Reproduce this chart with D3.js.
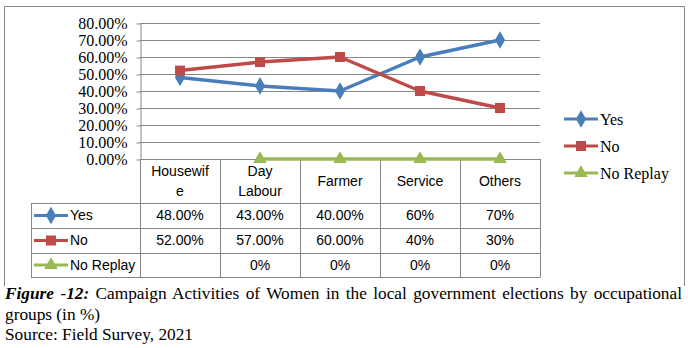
<!DOCTYPE html>
<html>
<head>
<meta charset="utf-8">
<script src="https://cdn.jsdelivr.net/npm/d3@7"></script>
<style>
  html, body { margin: 0; padding: 0; background: #fff; }
  svg { display: block; }
</style>
</head>
<body>
<div id="chart"></div>
<script>
// ── data ───────────────────────────────────────────────
var categories   = ["Housewife", "Day Labour", "Farmer", "Service", "Others"];
var headerLines  = [["Housewif", "e"], ["Day", "Labour"], ["Farmer"], ["Service"], ["Others"]];
var yesValues    = [48, 43, 40, 60, 70];
var noValues     = [52, 57, 60, 40, 30];
var replyValues  = [null, 0, 0, 0, 0];
var yesLabels    = ["48.00%", "43.00%", "40.00%", "60%", "70%"];
var noLabels     = ["52.00%", "57.00%", "60.00%", "40%", "30%"];
var replyLabels  = ["", "0%", "0%", "0%", "0%"];
var yTicks       = [0, 10, 20, 30, 40, 50, 60, 70, 80];

var SERIES = [
  { name: "Yes",      values: yesValues,   labels: yesLabels,   color: "#4a7ebb", marker: "diamond"  },
  { name: "No",       values: noValues,    labels: noLabels,    color: "#be4b48", marker: "square"   },
  { name: "No Replay",values: replyValues, labels: replyLabels, color: "#98b954", marker: "triangle" }
];

var W = 688, H = 348;
var GRID = "#868686";
var SERIF = "'Liberation Serif', 'Times New Roman', serif";
var SANS  = "'Liberation Sans', Arial, sans-serif";

var svg = d3.select("#chart").append("svg")
  .attr("width", W).attr("height", H);

// outer frame (bottom hidden by caption)
svg.append("path")
  .attr("d", "M4.5,286 V6.5 H684.5 V286")
  .attr("fill", "none").attr("stroke", GRID).attr("stroke-width", 1);

// ── scales ─────────────────────────────────────────────
var x = d3.scaleBand().domain(categories).range([140, 540]);
var y = d3.scaleLinear().domain([0, 80]).range([159, 23]);
var cx = function (i) { return x(categories[i]) + x.bandwidth() / 2; };

// gridlines
svg.append("g").selectAll("line")
  .data(yTicks).enter().append("line")
  .attr("x1", 140).attr("x2", 540)
  .attr("y1", function (d) { return Math.round(y(d)) + 0.5; })
  .attr("y2", function (d) { return Math.round(y(d)) + 0.5; })
  .attr("stroke", GRID);

// y axis
var yAxis = svg.append("g")
  .attr("transform", "translate(140.5,0.5)")
  .call(d3.axisLeft(y).tickValues(yTicks).tickSize(4).tickSizeOuter(0)
    .tickFormat(function (v) { return d3.format(".2f")(v) + "%"; }));
yAxis.select(".domain").attr("stroke", GRID);
yAxis.selectAll(".tick line").attr("stroke", GRID);
yAxis.selectAll(".tick text")
  .attr("x", -13)
  .style("font-family", SERIF).style("font-size", "16px").attr("fill", "#000");

// ── data table ────────────────────────────────────────
var rowTop = [203, 228, 253];
var rowBot = 277;
var tbl = svg.append("g").attr("stroke", GRID).attr("fill", "none");

// horizontal row lines
rowTop.concat([rowBot]).forEach(function (ry) {
  tbl.append("line").attr("x1", 31).attr("x2", 540)
    .attr("y1", ry + 0.5).attr("y2", ry + 0.5);
});
// column lines
d3.range(categories.length + 1).forEach(function (i) {
  var vx = 140 + i * x.bandwidth();
  tbl.append("line").attr("x1", vx + 0.5).attr("x2", vx + 0.5)
    .attr("y1", 159).attr("y2", rowBot + 0.5);
});
tbl.append("line").attr("x1", 31.5).attr("x2", 31.5)
  .attr("y1", rowTop[0]).attr("y2", rowBot + 0.5);

// header labels
headerLines.forEach(function (lines, i) {
  var t = svg.append("text")
    .attr("text-anchor", "middle")
    .style("font-family", SANS).style("font-size", "14px").attr("fill", "#000");
  var y0 = 181 - (lines.length - 1) * 10;
  lines.forEach(function (l, k) {
    t.append("tspan").attr("x", cx(i)).attr("y", y0 + k * 20)
      .attr("dy", "0.35em").text(l);
  });
});

// marker shapes
function drawMarker(g, type, px, py, color) {
  var s;
  if (type === "diamond")  s = d3.symbol(d3.symbolDiamond, 90);
  if (type === "square")   s = d3.symbol(d3.symbolSquare, 100);
  if (type === "triangle") s = d3.symbol(d3.symbolTriangle, 80);
  g.append("path").attr("d", s())
    .attr("transform", "translate(" + px + "," + py + ")")
    .attr("fill", color);
}

function legendKey(g, s, x0, ky) {
  g.append("line").attr("x1", x0).attr("x2", x0 + 34)
    .attr("y1", ky).attr("y2", ky)
    .attr("stroke", s.color).attr("stroke-width", 3);
  drawMarker(g, s.marker, x0 + 17, ky, s.color);
}

// value rows
SERIES.forEach(function (s, r) {
  var ry = (rowTop[r] + (r < 2 ? rowTop[r + 1] : rowBot)) / 2;
  var g = svg.append("g");
  legendKey(g, s, 34, ry);
  g.append("text").attr("x", 70).attr("y", ry).attr("dy", "0.35em")
    .style("font-family", SANS).style("font-size", "14px").attr("fill", "#000")
    .text(s.name);
  s.labels.forEach(function (lab, i) {
    g.append("text").attr("x", cx(i)).attr("y", ry).attr("dy", "0.35em")
      .attr("text-anchor", "middle")
      .style("font-family", SANS).style("font-size", "14px").attr("fill", "#000")
      .text(lab);
  });
});

// ── lines ─────────────────────────────────────────────
var line = d3.line()
  .defined(function (d) { return d != null; })
  .x(function (d, i) { return cx(i); })
  .y(function (d) { return y(d); });

SERIES.forEach(function (s) {
  var g = svg.append("g");
  g.append("path").datum(s.values)
    .attr("d", line)
    .attr("fill", "none").attr("stroke", s.color).attr("stroke-width", 3.5)
    .attr("stroke-linejoin", "round");
  s.values.forEach(function (v, i) {
    if (v == null) return;
    drawMarker(g, s.marker, cx(i), y(v), s.color);
  });
});

// ── legend ────────────────────────────────────────────
var legY = [119, 146, 173];
SERIES.forEach(function (s, i) {
  var g = svg.append("g");
  legendKey(g, s, 564, legY[i]);
  g.append("text").attr("x", 600).attr("y", legY[i]).attr("dy", "0.35em")
    .style("font-family", SERIF).style("font-size", "16px").attr("fill", "#000")
    .text(s.name);
});

// ── caption ───────────────────────────────────────────
var cap = svg.append("g")
  .style("font-family", SERIF).style("font-size", "17.3px").attr("fill", "#000");
var c1 = cap.append("text").attr("x", 5).attr("y", 299);
c1.append("tspan").style("font-weight", "bold").style("font-style", "italic").text("Figure -12:");
var rest = " Campaign Activities of Women in the local government elections by occupational";
c1.append("tspan").text(rest);
// justify first line by widening word gaps
var natural = c1.node().getComputedTextLength();
var gaps = 1 + rest.split(" ").length - 1;
if (natural < 677) c1.style("word-spacing", ((677 - natural) / gaps) + "px");
cap.append("text").attr("x", 5).attr("y", 319.5).text("groups (in %)");
cap.append("text").attr("x", 5).attr("y", 340).text("Source: Field Survey, 2021");
</script>
</body>
</html>
